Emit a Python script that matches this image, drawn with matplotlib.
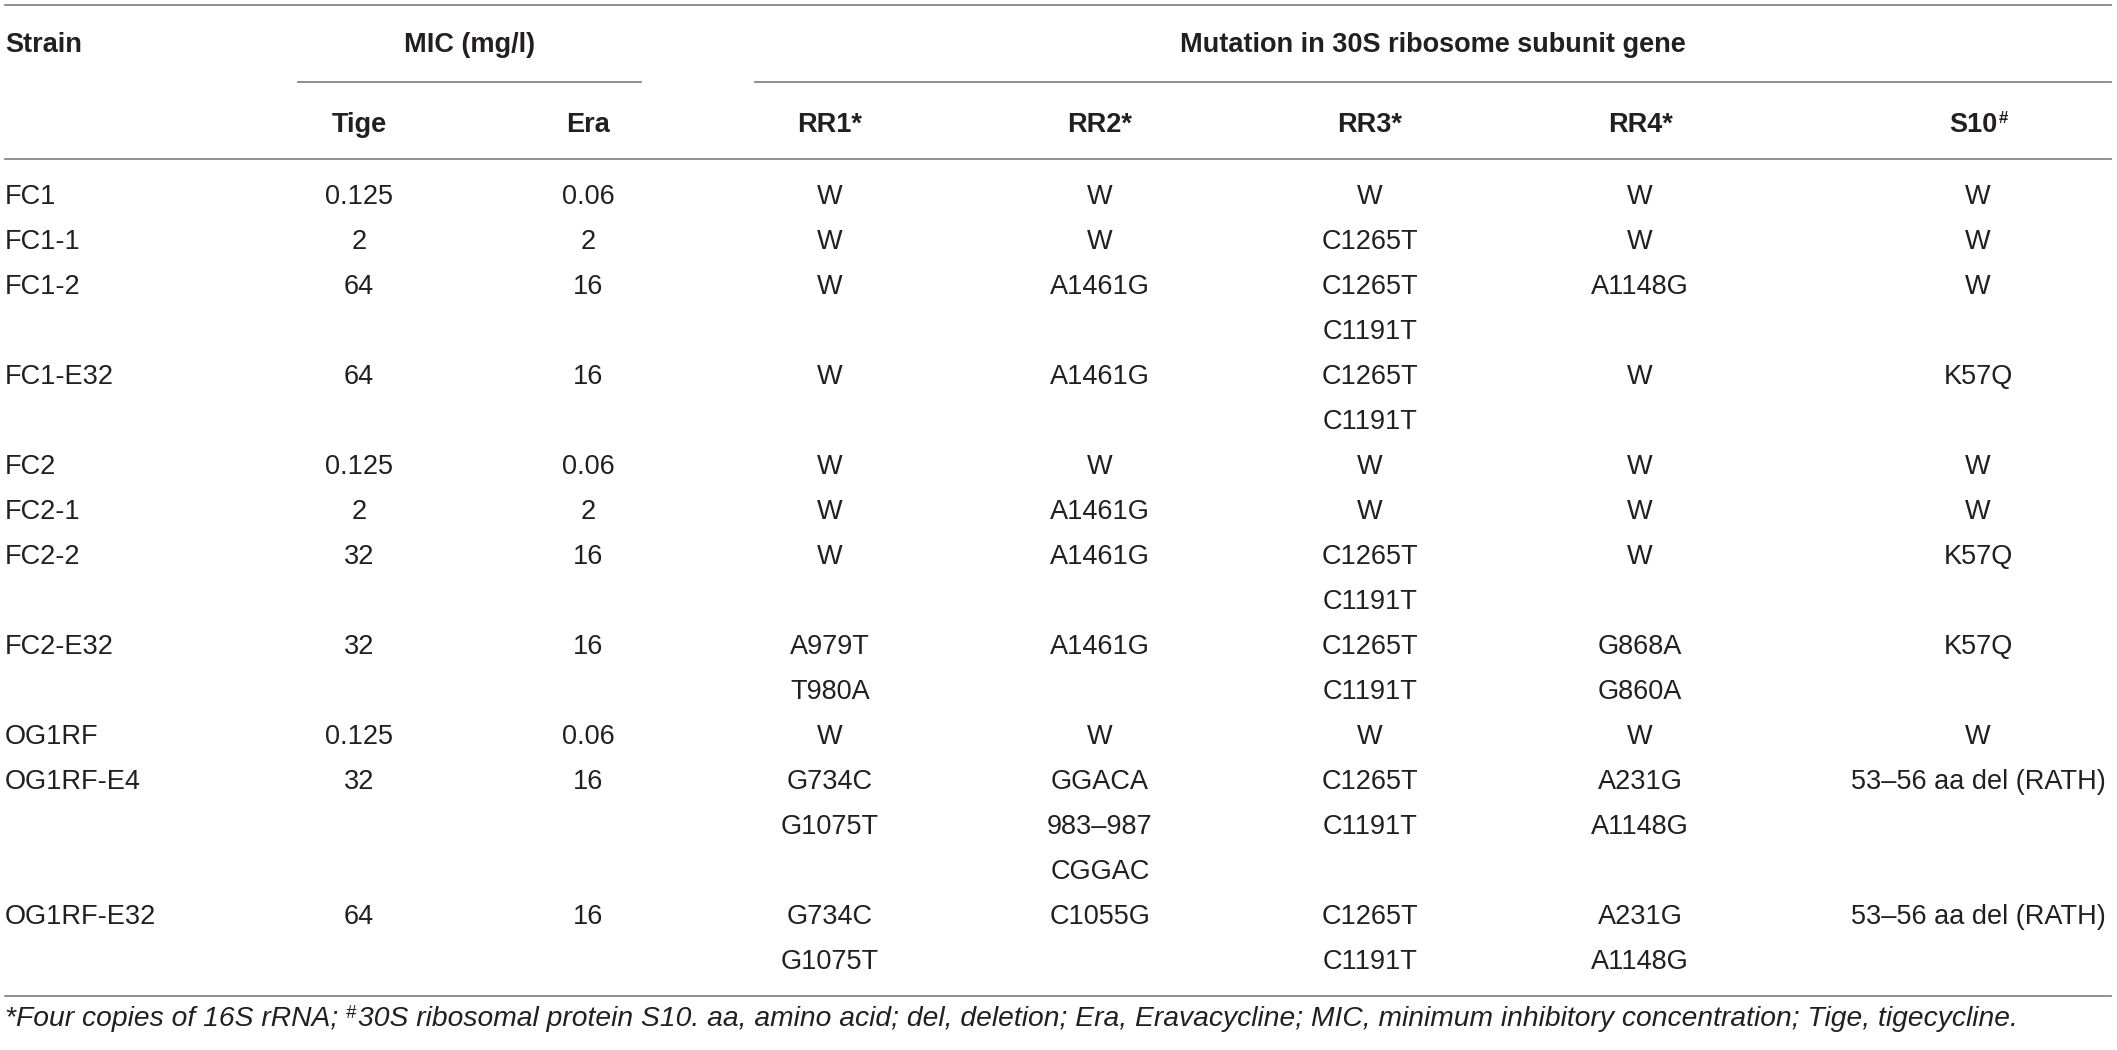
import matplotlib
matplotlib.use("Agg")
import matplotlib.pyplot as plt

# ---------------- data ----------------
strains = ["FC1", "FC1-1", "FC1-2", "FC1-E32", "FC2", "FC2-1", "FC2-2", "FC2-E32",
           "OG1RF", "OG1RF-E4", "OG1RF-E32"]
tige = ["0.125", "2", "64", "64", "0.125", "2", "32", "32", "0.125", "32", "64"]
era = ["0.06", "2", "16", "16", "0.06", "2", "16", "16", "0.06", "16", "16"]
rr1 = ["W", "W", "W", "W", "W", "W", "W", "A979T\nT980A", "W", "G734C\nG1075T", "G734C\nG1075T"]
rr2 = ["W", "W", "A1461G", "A1461G", "W", "A1461G", "A1461G", "A1461G", "W",
       "GGACA\n983–987\nCGGAC", "C1055G"]
rr3 = ["W", "C1265T", "C1265T\nC1191T", "C1265T\nC1191T", "W", "W", "C1265T\nC1191T",
       "C1265T\nC1191T", "W", "C1265T\nC1191T", "C1265T\nC1191T"]
rr4 = ["W", "W", "A1148G", "W", "W", "W", "W", "G868A\nG860A", "W", "A231G\nA1148G",
       "A231G\nA1148G"]
s10 = ["W", "W", "W", "K57Q", "W", "W", "K57Q", "K57Q", "W", "53–56 aa del (RATH)",
       "53–56 aa del (RATH)"]

group_headers = ["Strain", "MIC (mg/l)", "Mutation in 30S ribosome subunit gene"]
col_headers = ["Tige", "Era", "RR1*", "RR2*", "RR3*", "RR4*", "S10"]
footnote_parts = [("*Four copies of 16S rRNA; ", False), ("#", True),
                  ("30S ribosomal protein S10. aa, amino acid; del, deletion; Era, Eravacycline; "
                   "MIC, minimum inhibitory concentration; Tige, tigecycline.", False)]

# ---------------- layout ----------------
W, H = 2117, 1050
FONT = "Liberation Sans"
TXT = "#231f20"
LINE = "#878787"
FS = 19.5
LW = 1.3

fig = plt.figure(figsize=(W / 100, H / 100), dpi=100)
ax = fig.add_axes([0, 0, 1, 1])
ax.set_xlim(0, W)
ax.set_ylim(H, 0)
ax.axis("off")

left, right = 5, 2111
col_x = [359, 588, 830, 1100, 1370, 1640, 1978]
mic_span = (298, 641)
mut_span = (755, right)

# horizontal rules
ax.plot([left, right], [5, 5], color=LINE, lw=LW)
ax.plot(mic_span, [82, 82], color=LINE, lw=LW)
ax.plot(mut_span, [82, 82], color=LINE, lw=LW)
ax.plot([left, right], [159, 159], color=LINE, lw=LW)
ax.plot([left, right], [996, 996], color=LINE, lw=LW)

# group headers
hb = 52
ax.text(left, hb, group_headers[0], ha="left", va="baseline", fontsize=FS,
        fontweight="bold", family=FONT, color=TXT)
ax.text(sum(mic_span) / 2, hb, group_headers[1], ha="center", va="baseline", fontsize=FS,
        fontweight="bold", family=FONT, color=TXT)
ax.text(sum(mut_span) / 2, hb, group_headers[2], ha="center", va="baseline", fontsize=FS,
        fontweight="bold", family=FONT, color=TXT)

# column headers
cb = 132
for x, lab in zip(col_x[:-1], col_headers[:-1]):
    ax.text(x, cb, lab, ha="center", va="baseline", fontsize=FS, fontweight="bold",
            family=FONT, color=TXT)

fig.canvas.draw()
rend = fig.canvas.get_renderer()


def width(t):
    bb = t.get_window_extent(renderer=rend)
    return bb.width


# S10 with superscript #
t1 = ax.text(0, cb, col_headers[-1], ha="left", va="baseline", fontsize=FS, fontweight="bold",
             family=FONT, color=TXT)
t2 = ax.text(0, cb - 9, "#", ha="left", va="baseline", fontsize=FS * 0.62, fontweight="bold",
             family=FONT, color=TXT)
w1, w2 = width(t1), width(t2)
x0 = col_x[-1] - (w1 + w2) / 2
t1.set_x(x0)
t2.set_x(x0 + w1 + 1)

# data rows
columns = [tige, era, rr1, rr2, rr3, rr4, s10]
pitch = 45
base0 = 204
line_idx = 0
for i, s in enumerate(strains):
    cells = [c[i] for c in columns]
    nlines = max(c.count("\n") + 1 for c in cells)
    yb = base0 + pitch * line_idx
    ax.text(left, yb, s, ha="left", va="baseline", fontsize=FS, family=FONT, color=TXT)
    for x, c in zip(col_x, cells):
        for k, part in enumerate(c.split("\n")):
            ax.text(x, yb + pitch * k, part, ha="center", va="baseline", fontsize=FS,
                    family=FONT, color=TXT)
    line_idx += nlines

# footnote (italic), scaled to span the reference width
FN = 16
fb = 1026
target = 2012 - left
texts = []
for txt, sup in footnote_parts:
    t = ax.text(0, fb - (8 if sup else 0), txt, ha="left", va="baseline",
                fontsize=FN * (0.65 if sup else 1.0), style="italic", family=FONT, color=TXT)
    texts.append((t, sup))
fig.canvas.draw()
total = sum(width(t) for t, _ in texts)
scale = target / total
x = left
for t, sup in texts:
    t.set_fontsize(t.get_fontsize() * scale)
fig.canvas.draw()
for t, sup in texts:
    t.set_x(x)
    x += width(t) + (2 if sup else 0)

fig.savefig("out.png", dpi=100, facecolor="white")
